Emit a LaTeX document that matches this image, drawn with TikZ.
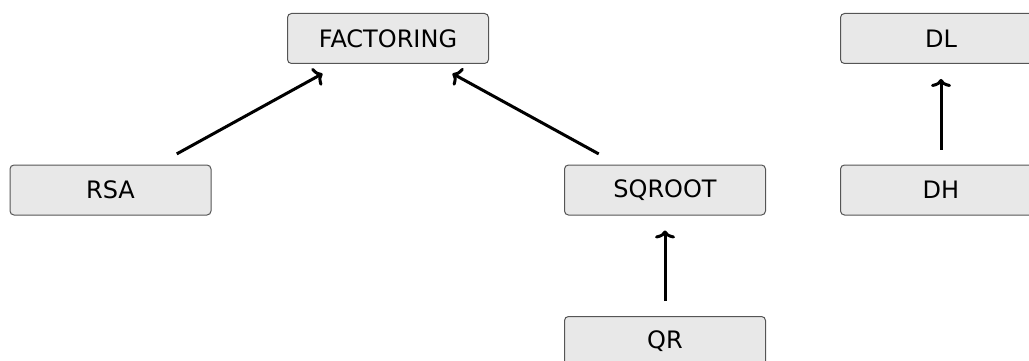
\documentclass[tikz,border=0pt]{standalone}
\usepackage{fontspec}
\setmainfont{DejaVu Sans}
\usetikzlibrary{arrows.meta}
\definecolor{boxfill}{HTML}{E8E8E8}
\definecolor{boxline}{HTML}{555555}
\tikzset{
  box/.style={draw=boxline, line width=1pt, fill=boxfill, rounded corners=4pt,
    minimum width=201pt, minimum height=50pt, inner sep=0pt,
    font=\fontsize{24}{28}\selectfont},
  link/.style={line width=3pt, -{To[length=8pt,width=20pt]}},
}
\begin{document}
\begin{tikzpicture}[x=1pt,y=-1pt]
  \useasboundingbox (0,0) rectangle (1029,361);
  \clip (0,0) rectangle (1029,361);
  \node[box] (fac) at (388,38.5) {FACTORING};
  \node[box] (dl)  at (941,38.5) {DL};
  \node[box] (rsa) at (110.5,190) {RSA};
  \node[box] (sqr) at (665,190) {SQROOT};
  \node[box] (dh)  at (941,190) {DH};
  \node[box] (qr)  at (665,341.5) {QR};
  \draw[link, shorten <=22pt, shorten >=20pt] ([xshift=47pt]rsa.north) -- ([xshift=-48pt]fac.south);
  \draw[link, shorten <=22pt, shorten >=20pt] ([xshift=-47pt]sqr.north) -- ([xshift=47pt]fac.south);
  \draw[link, shorten <=15pt, shorten >=15pt] (qr) -- (sqr);
  \draw[link, shorten <=15pt, shorten >=15pt] (dh) -- (dl);
\end{tikzpicture}
\end{document}
